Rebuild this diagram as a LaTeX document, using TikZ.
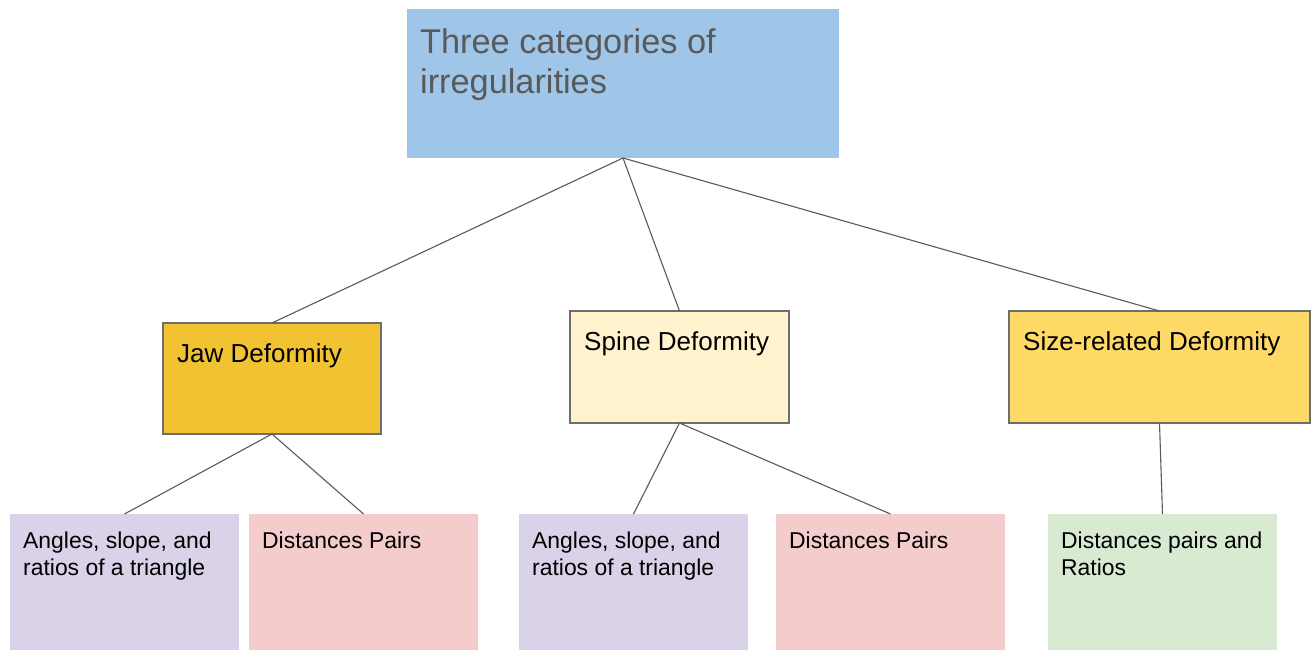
\documentclass[tikz,border=0pt]{standalone}
\usepackage{fontspec}
\setmainfont{Liberation Sans}
\definecolor{topblue}{HTML}{9FC5E8}
\definecolor{toptext}{HTML}{595959}
\definecolor{jawc}{HTML}{F1C232}
\definecolor{spinec}{HTML}{FFF2CC}
\definecolor{sizec}{HTML}{FFD966}
\definecolor{purp}{HTML}{D9D2E9}
\definecolor{pink}{HTML}{F4CCCC}
\definecolor{grn}{HTML}{D9EAD3}
\definecolor{edgec}{HTML}{595959}
\definecolor{borderc}{HTML}{6E6E6E}
\begin{document}
\begin{tikzpicture}[x=1pt,y=-1pt,
  box/.style={rectangle, inner sep=0pt, outer sep=0pt, anchor=north west},
  midbox/.style={box, draw=borderc, line width=1.3pt, minimum width=218pt, minimum height=111pt},
  leaf/.style={box, minimum width=229pt, minimum height=136pt},
  midtxt/.style={anchor=base west, inner sep=0pt, font=\fontsize{26}{31}\selectfont},
  leaftxt/.style={anchor=north west, inner sep=0pt, align=left, font=\fontsize{22.9}{27}\selectfont},
  conn/.style={draw=edgec, line width=1.1pt}]
\useasboundingbox (0,0) rectangle (1315,650);
% top
\node[box, fill=topblue, minimum width=432pt, minimum height=149pt] (top) at (407,9) {};
\node[anchor=north west, inner sep=0pt, align=left, text=toptext, font=\fontsize{34.3}{40}\selectfont] (toplbl) at (420,28.5) {Three categories of\\irregularities};
% middle
\node[midbox, fill=jawc] (jaw) at (163,323) {};
\node[midtxt] (jawlbl) at (177,362) {Jaw Deformity};
\node[midbox, fill=spinec, minimum width=219pt, minimum height=112pt] (spine) at (570,311) {};
\node[midtxt] (spinelbl) at (584,350) {Spine Deformity};
\node[midbox, fill=sizec, minimum width=301pt, minimum height=112pt] (size) at (1009,311) {};
\node[midtxt] (sizelbl) at (1023,350) {Size-related Deformity};
% leaves
\node[leaf, fill=purp] (l1) at (10,514) {};
\node[leaftxt] (l1lbl) at (23,532) {Angles, slope, and\\ratios of a triangle};
\node[leaf, fill=pink] (l2) at (249,514) {};
\node[leaftxt] (l2lbl) at (262,532) {Distances Pairs};
\node[leaf, fill=purp] (l3) at (519,514) {};
\node[leaftxt] (l3lbl) at (532,532) {Angles, slope, and\\ratios of a triangle};
\node[leaf, fill=pink] (l4) at (776,514) {};
\node[leaftxt] (l4lbl) at (789,532) {Distances Pairs};
\node[leaf, fill=grn] (l5) at (1048,514) {};
\node[leaftxt] (l5lbl) at (1061,532) {Distances pairs and\\Ratios};
% connectors
\draw[conn] (top.south) -- (jaw.north);
\draw[conn] (top.south) -- (spine.north);
\draw[conn] (top.south) -- (size.north);
\draw[conn] (jaw.south) -- (l1.north);
\draw[conn] (jaw.south) -- (l2.north);
\draw[conn] (spine.south) -- (l3.north);
\draw[conn] (spine.south) -- (l4.north);
\draw[conn] (size.south) -- (l5.north);
\end{tikzpicture}
\end{document}
